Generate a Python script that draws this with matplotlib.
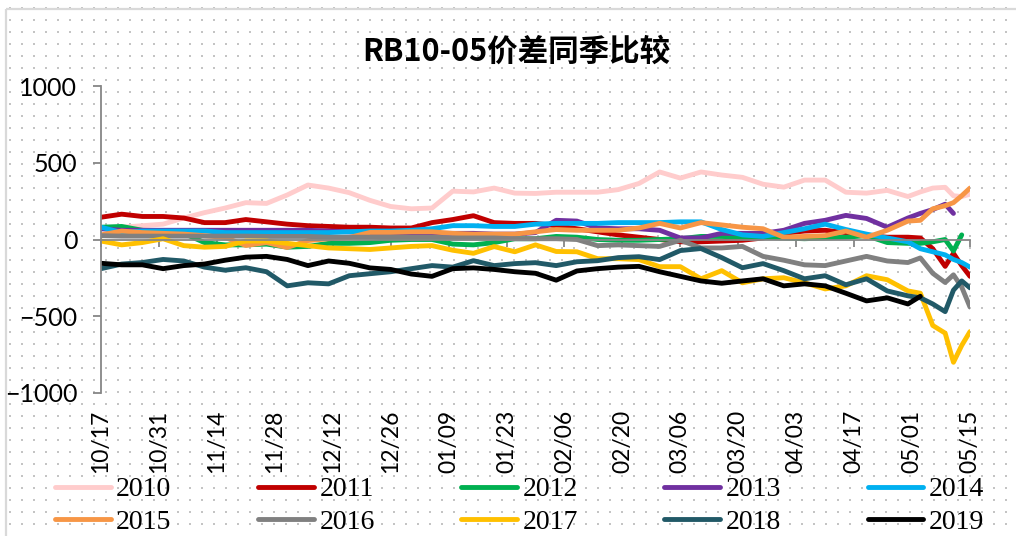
import matplotlib
matplotlib.use('Agg')
import matplotlib.pyplot as plt
from matplotlib.patches import Rectangle
import numpy as np

nan = np.nan

# calendar days since 10/17
days = [0, 5, 10, 15, 20, 25, 30, 35, 40, 45, 50, 55, 60, 65, 70, 75, 80, 85, 90, 95,
        100, 105, 110, 115, 120, 125, 130, 135, 140, 145, 150, 155, 160, 165, 170, 175,
        180, 185, 190, 195, 198, 201, 204, 206, 208, 210]

tick_days = [0, 14, 28, 42, 56, 70, 84, 98, 112, 126, 140, 154, 168, 182, 196, 210]
tick_labels = ['10/17', '10/31', '11/14', '11/28', '12/12', '12/26', '01/09', '01/23',
               '02/06', '02/20', '03/06', '03/20', '04/03', '04/17', '05/01', '05/15']

y2010 = [70, 80, 90, 100, 140, 175, 205, 240, 235, 290, 355, 335, 305, 255, 215, 200,
         205, 315, 310, 335, 302, 300, 308, 308, 308, 325, 365, 440, 400, 440, 420, 405,
         360, 341, 387, 387, 308, 302, 320, 280, 310, 335, 340, 285, 280, 295]
y2011 = [145, 165, 150, 150, 140, 110, 110, 130, 115, 100, 90, 85, 80, 80, 75, 75,
         110, 130, 155, 110, 105, 105, 90, 70, 50, 30, 15, 0, -15, -15, -10, -5,
         10, 40, 55, 60, 45, 25, 15, 15, 10, -60, -175, -90, -170, -240]
y2012 = [80, 85, 60, 45, 40, -20, -35, -35, -30, -50, -45, -25, -25, -20, -5, 0,
         0, -30, -35, -20, 5, 5, 20, 15, 0, -5, -5, 0, 5, 20, 20, 15,
         15, 10, 5, 10, 15, 25, -20, -25, -25, -15, 0, -75, 30, nan]
y2013 = [70, 60, 60, 60, 60, 60, 60, 60, 60, 60, 60, 55, 50, 45, 45, 45,
         40, 40, 40, 35, 35, 45, 125, 120, 75, 70, 70, 60, 10, 10, 40, 40,
         40, 60, 105, 125, 157, 137, 80, 140, 170, 195, 230, 170, nan, nan]
y2014 = [80, 45, 55, 55, 55, 55, 45, 45, 45, 45, 45, 45, 50, 55, 55, 60,
         70, 90, 90, 85, 85, 100, 105, 105, 105, 110, 110, 110, 115, 115, 65, 30,
         20, 45, 70, 100, 65, 35, 10, -15, -60, -80, -100, -130, -150, -180]
y2015 = [30, 55, 45, 40, 35, 25, 13, -39, -20, -52, -7, 5, 13, 46, 46, 50,
         50, 40, 35, 35, 35, 50, 65, 60, 60, 60, 75, 105, 75, 110, 95, 80,
         70, 15, 20, 25, 55, 15, 60, 120, 125, 200, 220, 240, 285, 335]
y2016 = [25, 22, 22, 22, 22, 22, 22, 22, 20, 20, 20, 15, 15, 15, 15, 15,
         15, 10, 10, 10, 5, 5, 5, 0, -40, -35, -40, -45, -5, -55, -55, -45,
         -110, -135, -165, -170, -140, -110, -140, -150, -120, -220, -280, -230, -310, -440]
y2017 = [-10, -35, -20, 5, -40, -50, -45, -10, -10, -25, -40, -55, -60, -65, -55, -45,
         -40, -70, -90, -46, -80, -35, -78, -80, -125, -125, -131, -177, -177, -256, -203, -282,
         -256, -249, -282, -322, -302, -236, -262, -335, -350, -560, -610, -800, -690, -600]
y2018 = [-190, -160, -150, -130, -140, -180, -200, -184, -210, -302, -282, -289, -236, -223, -210, -190,
         -170, -180, -138, -170, -157, -151, -170, -145, -138, -118, -112, -131, -72, -59, -118, -184,
         -157, -203, -256, -236, -295, -256, -335, -367, -380, -420, -470, -330, -270, -315]
y2019 = [-155, -165, -165, -190, -170, -160, -135, -115, -110, -130, -170, -140, -155, -185, -195, -225,
         -240, -190, -185, -195, -210, -220, -265, -205, -190, -180, -175, -210, -240, -270, -285, -270,
         -256, -302, -289, -302, -350, -400, -380, -420, -370, nan, nan, nan, nan, nan]

years = ['2010', '2011', '2012', '2013', '2014', '2015', '2016', '2017', '2018', '2019']
series = [y2010, y2011, y2012, y2013, y2014, y2015, y2016, y2017, y2018, y2019]
colors = ['#FFCCCC', '#C00000', '#00B050', '#7030A0', '#00B0F0',
          '#F79646', '#808080', '#FFC000', '#215967', '#000000']

plt.rcParams['font.family'] = ['Lato', 'DejaVu Sans']
axis_grey = '#868686'

fig = plt.figure(figsize=(10.16, 5.36), dpi=100)

# dotted chart-area pattern and outer border
bg = fig.add_axes([0, 0, 1, 1], zorder=-10)
bg.set_xlim(0, 1016)
bg.set_ylim(536, 0)
gx, gy = np.meshgrid(np.arange(10, 1016, 12), np.arange(8, 536, 12))
bg.scatter(gx.ravel(), gy.ravel(), s=2.2, c='#c4c4c4', marker='s', linewidths=0)
bg.add_patch(Rectangle((6, 9), 1030, 540, fill=False, ec='#d9d9d9', lw=1.6))
bg.axis('off')

ax = fig.add_axes([101 / 1016, 1 - 393 / 536, 869 / 1016, 307 / 536])
ax.patch.set_alpha(0)

lines = []
for year, vals, col in zip(years, series, colors):
    ln, = ax.plot(days, vals, color=col, lw=3.5, label=year,
                  solid_joinstyle='round', solid_capstyle='round')
    lines.append(ln)

ax.set_xlim(0, 210)
ax.set_ylim(-1000, 1000)
ax.set_yticks([-1000, -500, 0, 500, 1000])
for s in ['top', 'right']:
    ax.spines[s].set_visible(False)
ax.spines['left'].set_color(axis_grey)
ax.spines['left'].set_linewidth(1.3)
ax.spines['bottom'].set_position(('data', 0))
ax.spines['bottom'].set_color(axis_grey)
ax.spines['bottom'].set_linewidth(1.3)
ax.tick_params(axis='y', length=6, width=1.3, color=axis_grey, labelsize=18, pad=11)
ax.set_xticks(tick_days)
ax.tick_params(axis='x', length=5, width=1.3, color=axis_grey, labelbottom=False)

sec = ax.secondary_xaxis(0.0)
sec.set_xticks(tick_days, labels=tick_labels)
sec.tick_params(length=0, pad=12, labelsize=16.5, labelrotation=90)
sec.spines['bottom'].set_visible(False)

fig.text(516 / 1016, 1 - 52 / 536, 'RB10-05价差同季比较', ha='center', va='center',
         fontsize=22, fontweight='bold', family=['Noto Sans CJK SC', 'DejaVu Sans'])

# legend filled row by row: 2010-2014 then 2015-2019
order = [0, 5, 1, 6, 2, 7, 3, 8, 4, 9]
fig.legend([lines[i] for i in order], [years[i] for i in order], ncol=5,
           loc='upper left', bbox_to_anchor=(55 / 1016, 1 - 477 / 536),
           frameon=False, prop={'family': 'Liberation Serif', 'size': 20},
           handlelength=2.0, handletextpad=0.2, columnspacing=3.12,
           borderpad=0, borderaxespad=0, labelspacing=0.25)

fig.savefig('out.png', dpi=100)
